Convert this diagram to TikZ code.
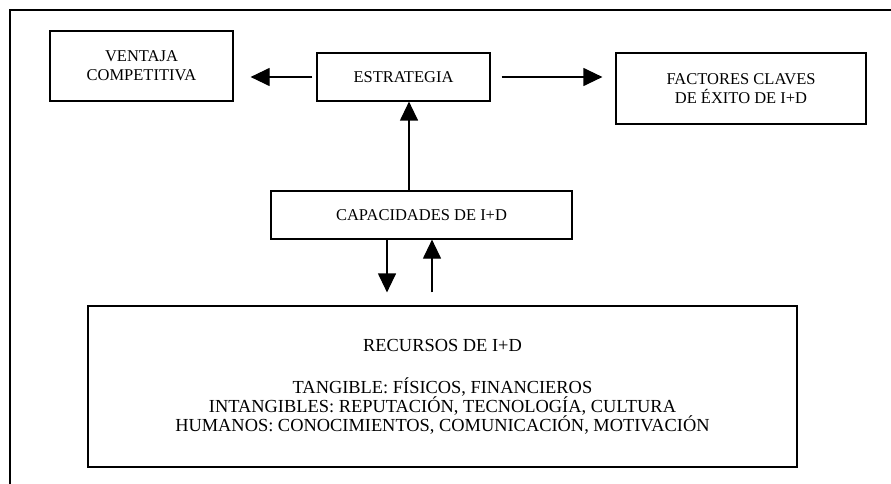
\documentclass[tikz,border=0pt]{standalone}
\usepackage{fontspec}
\setmainfont{Liberation Serif}
\usetikzlibrary{arrows.meta}

\begin{document}
\begin{tikzpicture}[x=1pt,y=-1pt]
        \tikzstyle{caja}= [draw, line width=1.2pt, align=center, inner sep=0pt, font=\fontsize{16.5}{19}\selectfont];
        \tikzstyle{flecha}= [line width=1.2pt, -{Triangle[length=19pt,width=18pt]}];
        \useasboundingbox (0,0) rectangle (891,484);
        \draw[line width=1.2pt] (10,484) -- (10,10) -- (891,10);

        \node(ventaja)[caja, minimum width=183pt, minimum height=70pt] at (141.5,66) {VENTAJA\\COMPETITIVA};
        \node(estrategia)[caja, minimum width=173pt, minimum height=48pt] at (403.5,77) {ESTRATEGIA};
        \node(factores)[caja, minimum width=250pt, minimum height=71pt] at (741,88.5) {FACTORES CLAVES\\DE ÉXITO DE I+D};
        \node(capacidades)[caja, minimum width=301pt, minimum height=48pt] at (421.5,215) {CAPACIDADES DE I+D};
        \node(recursos)[caja, minimum width=709pt, minimum height=161pt, font=\fontsize{18.4}{19}\selectfont] at (442.5,386.5)
          {RECURSOS DE I+D\\[23pt]TANGIBLE: FÍSICOS, FINANCIEROS\\INTANGIBLES: REPUTACIÓN, TECNOLOGÍA, CULTURA\\HUMANOS: CONOCIMIENTOS, COMUNICACIÓN, MOTIVACIÓN};

        \draw[flecha, shorten <=4pt, shorten >=17pt] (estrategia.west) -- (estrategia.west -| ventaja.east);
        \draw[flecha, shorten <=11pt, shorten >=13pt] (estrategia.east) -- (estrategia.east -| factores.west);
        \draw[flecha] ([xshift=5.5pt]estrategia.south |- capacidades.north) -- ([xshift=5.5pt]estrategia.south);

        %\draw[flecha] (capacidades.south) -- (recursos.north);
        \draw[flecha, shorten >=13pt] ([xshift=-34.5pt]capacidades.south) -- ([xshift=-34.5pt]capacidades.south |- recursos.north);
        \draw[flecha, shorten <=13pt] ([xshift=10.5pt]capacidades.south |- recursos.north) -- ([xshift=10.5pt]capacidades.south);
      \end{tikzpicture}
\end{document}
